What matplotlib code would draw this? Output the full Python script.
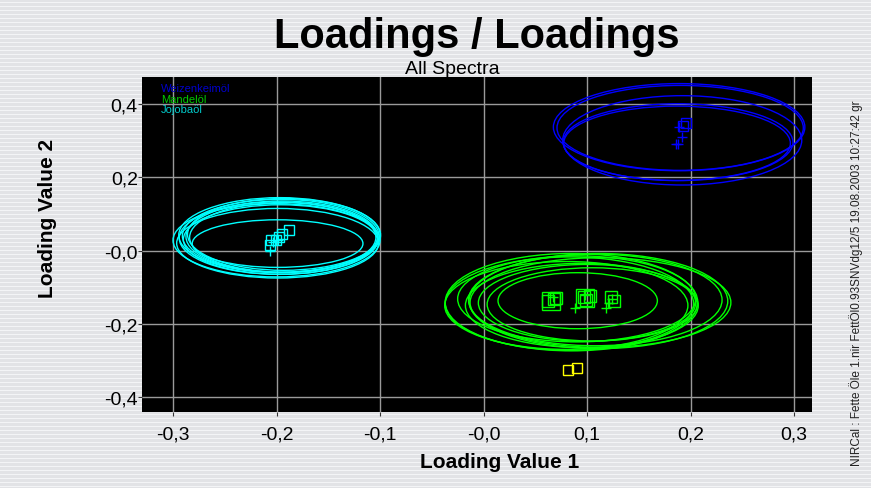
import matplotlib
matplotlib.use("Agg")
from matplotlib import pyplot as plt
from matplotlib.patches import Ellipse
import numpy as np

plt.rcParams['font.family'] = ['Liberation Sans', 'DejaVu Sans']

# confidence ellipses: centre x, centre y, width, height (data units)
blue_ell_x = [0.189, 0.190, 0.192, 0.187, 0.188]
blue_ell_y = [0.337, 0.335, 0.301, 0.293, 0.296]
blue_ell_w = [0.243, 0.238, 0.231, 0.219, 0.222]
blue_ell_h = [0.238, 0.232, 0.244, 0.203, 0.210]

cyan_ell_x = [-0.196, -0.195, -0.197, -0.194, -0.198, -0.193, -0.196, -0.200, -0.199, -0.199]
cyan_ell_y = [0.040, 0.038, 0.042, 0.036, 0.034, 0.044, 0.030, 0.028, 0.020, 0.019]
cyan_ell_w = [0.190, 0.185, 0.195, 0.180, 0.192, 0.186, 0.188, 0.200, 0.195, 0.165]
cyan_ell_h = [0.200, 0.195, 0.205, 0.190, 0.198, 0.196, 0.190, 0.200, 0.190, 0.130]

green_ell_x = [0.085, 0.083, 0.080, 0.111, 0.108, 0.113, 0.105, 0.100, 0.091, 0.095, 0.090]
green_ell_y = [-0.141, -0.145, -0.150, -0.138, -0.135, -0.142, -0.147, -0.143, -0.137, -0.150, -0.132]
green_ell_w = [0.244, 0.240, 0.235, 0.250, 0.245, 0.252, 0.203, 0.210, 0.154, 0.225, 0.230]
green_ell_h = [0.266, 0.255, 0.240, 0.260, 0.250, 0.245, 0.200, 0.210, 0.153, 0.230, 0.235]

# sample points
blue_sq_x = [0.196, 0.193]
blue_sq_y = [0.348, 0.340]
blue_pl_x = [0.189, 0.192, 0.186, 0.188]
blue_pl_y = [0.337, 0.311, 0.290, 0.292]

cyan_sq_x = [-0.188, -0.195, -0.198, -0.205, -0.206, -0.201]
cyan_sq_y = [0.055, 0.045, 0.038, 0.030, 0.014, 0.030]
cyan_pl_x = [-0.206, -0.203, -0.199]
cyan_pl_y = [0.000, 0.022, 0.028]

green_sq_x = [0.062, 0.068, 0.070, 0.097, 0.103, 0.099, 0.123, 0.126]
green_sq_y = [-0.137, -0.133, -0.130, -0.128, -0.124, -0.136, -0.128, -0.138]
green_big_x = [0.065, 0.098]
green_big_y = [-0.138, -0.130]
green_pl_x = [0.067, 0.088, 0.098, 0.118, 0.121, 0.124]
green_pl_y = [-0.128, -0.157, -0.122, -0.157, -0.143, -0.133]

yellow_sq_x = [0.082, 0.090]
yellow_sq_y = [-0.325, -0.322]

ticks = [-0.3, -0.2, -0.1, 0.0, 0.1, 0.2, 0.3]
xtick_labels = ['-0,3', '-0,2', '-0,1', '-0,0', '0,1', '0,2', '0,3']
yticks = [-0.4, -0.2, 0.0, 0.2, 0.4]
ytick_labels = ['-0,4', '-0,2', '-0,0', '0,2', '0,4']

fig = plt.figure(figsize=(8.71, 4.89), dpi=100, facecolor='#e6e6e8')

# striped backdrop
bg = fig.add_axes([0, 0, 1, 1], zorder=-10)
rows = np.array([[0.0], [0.0], [0.0], [1.0]] * 123)[:489]
bg.imshow(rows, aspect='auto', cmap=matplotlib.colors.ListedColormap(['#e2e3e6', '#f3f4f6']),
          extent=[0, 1, 0, 1], interpolation='nearest')
bg.axis('off')

ax = fig.add_axes([142/871, 1-413/489, 670/871, 335/489])
ax.set_facecolor('black')

def draw_group(xs, ys, ws, hs, col):
    for x, y, w, h in zip(xs, ys, ws, hs):
        ax.add_patch(Ellipse((x, y), w, h, fill=False, edgecolor=col, linewidth=1.0))

draw_group(blue_ell_x, blue_ell_y, blue_ell_w, blue_ell_h, '#0000ff')
draw_group(cyan_ell_x, cyan_ell_y, cyan_ell_w, cyan_ell_h, '#00ffff')
draw_group(green_ell_x, green_ell_y, green_ell_w, green_ell_h, '#00ff00')

ax.plot(blue_sq_x, blue_sq_y, 's', mfc='none', mec='#0000ff', ms=7, mew=1)
ax.plot(blue_pl_x, blue_pl_y, '+', color='#0000ff', ms=7, mew=1)
ax.plot(cyan_sq_x, cyan_sq_y, 's', mfc='none', mec='#00ffff', ms=7, mew=1)
ax.plot(cyan_pl_x, cyan_pl_y, '+', color='#00ffff', ms=7, mew=1)
ax.plot(green_sq_x, green_sq_y, 's', mfc='none', mec='#00ff00', ms=8, mew=1)
ax.plot(green_big_x, green_big_y, 's', mfc='none', mec='#00ff00', ms=13, mew=1)
ax.plot(green_pl_x, green_pl_y, '+', color='#00ff00', ms=7, mew=1)
ax.plot(yellow_sq_x, yellow_sq_y, 's', mfc='none', mec='#ffff00', ms=7, mew=1)

ax.set_xlim(-0.33, 0.3174)
ax.set_ylim(-0.441, 0.474)
ax.set_xticks(ticks)
ax.set_xticklabels(xtick_labels)
ax.set_yticks(yticks)
ax.set_yticklabels(ytick_labels)
ax.tick_params(labelsize=14, length=3, color='#333333', direction='out')
ax.tick_params(axis='x', pad=7)
ax.tick_params(axis='y', pad=0)
ax.grid(True, color='#9a9a9a', linewidth=1)
ax.set_axisbelow(True)
for s in ax.spines.values():
    s.set_visible(False)

ax.set_xlabel('Loading Value 1', fontsize=15, fontweight='bold')
ax.xaxis.set_label_coords((500-142)/670, (413-463)/335)
ax.xaxis.label.set_va('center')
ax.set_ylabel('Loading Value 2', fontsize=15, fontweight='bold')
ax.yaxis.set_label_coords((48-142)/670, (413-218)/335)
ax.yaxis.label.set_va('center')
ax.yaxis.label.set_ha('center')

ax.text(0.028, (413-89)/335, 'Weizenkeimöl', color='#0000cc', fontsize=8, transform=ax.transAxes, va='center')
ax.text(0.028, (413-100)/335, 'Mandelöl', color='#00cc00', fontsize=8, transform=ax.transAxes, va='center')
ax.text(0.028, (413-110)/335, 'Jojobaöl', color='#00cccc', fontsize=8, transform=ax.transAxes, va='center')

fig.text(477/871, 1-37/489, 'Loadings / Loadings', fontsize=30, fontweight='bold', ha='center', va='center')
fig.text(452/871, 1-69/489, 'All Spectra', fontsize=14, ha='center', va='center')
fig.text(856/871, 1-283/489, 'NIRCal : Fette Öle 1.nir FettÖl0.93SNVdg12/5 19.08.2003 10:27:42 gr',
         fontsize=8.5, rotation=90, ha='center', va='center', color='#222222')

fig.savefig('out.png', dpi=100, facecolor=fig.get_facecolor())
